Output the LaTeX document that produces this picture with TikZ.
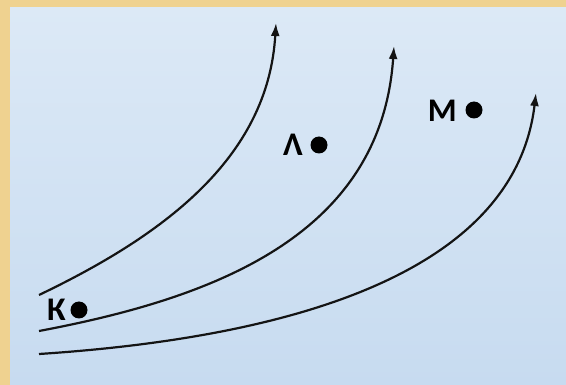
\documentclass[tikz,border=0pt]{standalone}
\usepackage{fontspec}
\setmainfont{Carlito}
\usetikzlibrary{arrows.meta}
\definecolor{frameC}{HTML}{EFD290}
\definecolor{panelTop}{HTML}{DCE9F6}
\definecolor{panelBot}{HTML}{C7DBF0}
\tikzset{
  line/.style={line width=2.2pt, color=black!92, -{Latex[length=13pt,width=9pt]}},
  lbl/.style={font=\bfseries\fontsize{33}{33}\selectfont, inner sep=0pt, text=black, anchor=east},
  pt/.style={circle, fill=black, minimum size=17pt, inner sep=0pt},
}
\begin{document}
\begin{tikzpicture}[x=1pt,y=-1pt]
\useasboundingbox (0,0) rectangle (566,385);
\fill[frameC] (0,0) rectangle (566,385);
\shade[top color=panelTop, bottom color=panelBot] (10,8) rectangle (566,385);
% curve end points
\coordinate (a0) at (39,295);
\coordinate (a1) at (276,23);
\coordinate (b0) at (39,331);
\coordinate (b1) at (394,46);
\coordinate (c0) at (39,354);
\coordinate (c1) at (536,93);
\draw[line] (a0) .. controls (160,237) and (268,160) .. (a1);
\draw[line] (b0) .. controls (209,299) and (381,238) .. (b1);
\draw[line] (c0) .. controls (299,337) and (515,270) .. (c1);
% points
\node[lbl] (kl) at (66,310) {К};
\node[pt] (kd) at (79,310) {};
\node[lbl] (ll) at (303,145) {Λ};
\node[pt] (ld) at (319,145) {};
\node[lbl] (ml) at (457,111) {М};
\node[pt] (md) at (474,110) {};
\end{tikzpicture}
\end{document}
